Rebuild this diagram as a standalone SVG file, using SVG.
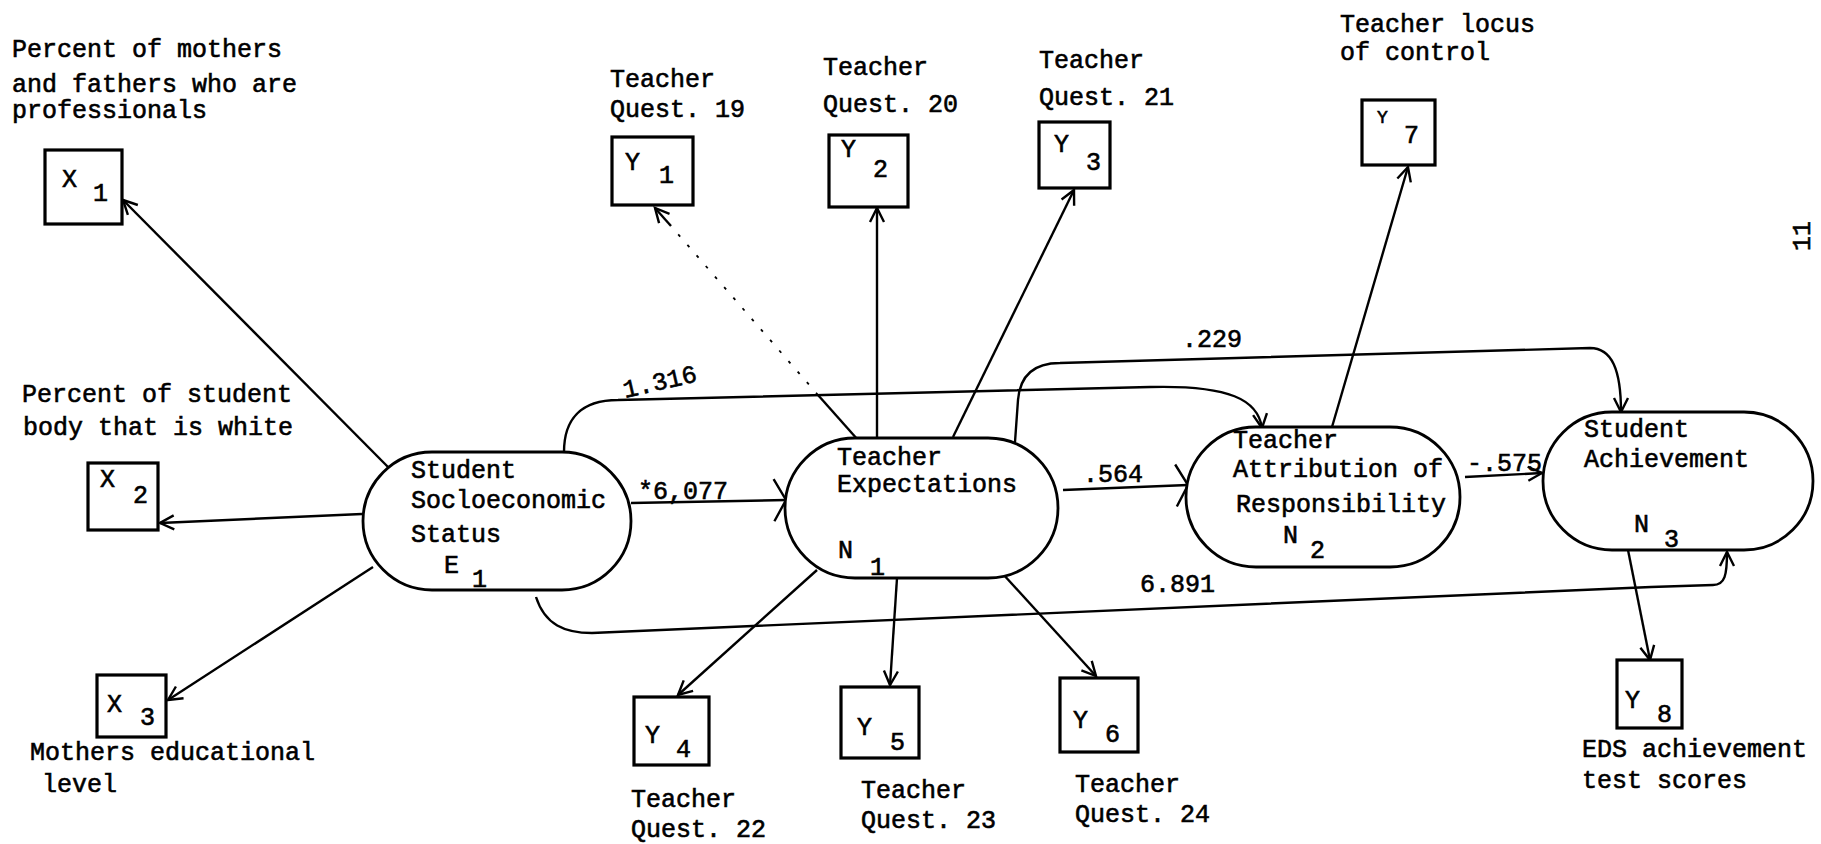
<svg xmlns="http://www.w3.org/2000/svg" width="1821" height="844" viewBox="0 0 1821 844">
  <style>
    .t { font-family: "Liberation Mono", "DejaVu Sans Mono", monospace; font-size: 25px; fill: #000; stroke: #000; stroke-width: 0.6; }
    .box { fill: #fff; stroke: #000; stroke-width: 3.2; }
    .node { fill: #fff; stroke: #000; stroke-width: 2.8; }
    .edge { fill: none; stroke: #000; stroke-width: 2.4; }
    .dash { fill: none; stroke: #000; stroke-width: 1.8; stroke-dasharray: 3 11; }
  </style>
  <defs>
    <marker id="arrow" viewBox="-16 -10 20 20" refX="0" refY="0" markerWidth="20" markerHeight="20" markerUnits="userSpaceOnUse" orient="auto">
      <path d="M-14,-7 L0,0 L-14,7" fill="none" stroke="#000" stroke-width="2.4"/>
    </marker>
    <marker id="bigArrow" viewBox="-26 -24 30 48" refX="0" refY="0" markerWidth="30" markerHeight="48" markerUnits="userSpaceOnUse" orient="auto">
      <path d="M-12,-21 L0,0 L-12,21" fill="none" stroke="#000" stroke-width="2.4"/>
    </marker>
  </defs>
  <rect width="1821" height="844" fill="#fff"/>

  <!-- connectors -->
  <g id="connectors">
    <path class="edge" d="M388,467 L123,200" marker-end="url(#arrow)"/>
    <path class="edge" d="M362,514 L160,523" marker-end="url(#arrow)"/>
    <path class="edge" d="M373,567 L168,700" marker-end="url(#arrow)"/>
    <path class="edge" d="M631,503 L786,500" marker-end="url(#bigArrow)"/>
    <path class="edge" d="M564,452 C564,420 580,400 618,400 L1150,387 C1230,385 1258,400 1262,428" marker-end="url(#arrow)"/>
    <path class="edge" d="M536,597 C545,625 565,633 592,633 L1651,587 L1713,585 C1725,585 1727,575 1727,552" marker-end="url(#arrow)"/>
    <path class="edge" d="M1063,490 L1188,485" marker-end="url(#bigArrow)"/>
    <path class="edge" d="M1465,477 L1542,473" marker-end="url(#arrow)"/>
    <path class="edge" d="M1015,442 L1018,400 C1020,375 1035,363 1060,363 L1590,348 C1612,348 1621,370 1621,412" marker-end="url(#arrow)"/>
    <path class="edge" d="M858,440 L818,395"/>
    <path class="dash" d="M818,395 L671,226"/>
    <path class="edge" d="M671,226 L655,208" marker-end="url(#arrow)"/>
    <path class="edge" d="M877,438 L877,208" marker-end="url(#arrow)"/>
    <path class="edge" d="M953,437 L1074,190" marker-end="url(#arrow)"/>
    <path class="edge" d="M817,570 L678,695" marker-end="url(#arrow)"/>
    <path class="edge" d="M897,578 L890,685" marker-end="url(#arrow)"/>
    <path class="edge" d="M1002,573 L1096,676" marker-end="url(#arrow)"/>
    <path class="edge" d="M1332,427 L1408,167" marker-end="url(#arrow)"/>
    <path class="edge" d="M1628,550 L1650,660" marker-end="url(#arrow)"/>
    <!-- path coefficients -->
    <text class="t" x="625" y="398" transform="rotate(-13 625 398)">1.316</text>
    <text class="t" x="638" y="499">*6,077</text>
    <text class="t" x="1083" y="482">.564</text>
    <text class="t" x="1467" y="471">-.575</text>
    <text class="t" x="1182" y="347">.229</text>
    <text class="t" x="1140" y="592">6.891</text>
  </g>

  <!-- latent variables -->
  <g id="E1">
    <rect class="node" x="363" y="452" width="268" height="138" rx="69"/>
    <text class="t" x="411" y="478">Student</text>
    <text class="t" x="411" y="508">Socloeconomic</text>
    <text class="t" x="411" y="542">Status</text>
    <text class="t" x="444" y="573">E</text>
    <text class="t" x="472" y="587">1</text>
  </g>
  <g id="N1">
    <rect class="node" x="785" y="438" width="273" height="140" rx="70"/>
    <text class="t" x="837" y="465">Teacher</text>
    <text class="t" x="837" y="492">Expectations</text>
    <text class="t" x="838" y="558">N</text>
    <text class="t" x="870" y="575">1</text>
  </g>
  <g id="N2">
    <rect class="node" x="1186" y="427" width="274" height="140" rx="70"/>
    <text class="t" x="1233" y="448">Teacher</text>
    <text class="t" x="1233" y="477">Attribution of</text>
    <text class="t" x="1236" y="512">Responsibility</text>
    <text class="t" x="1283" y="543">N</text>
    <text class="t" x="1310" y="558">2</text>
  </g>
  <g id="N3">
    <rect class="node" x="1543" y="412" width="270" height="138" rx="69"/>
    <text class="t" x="1584" y="437">Student</text>
    <text class="t" x="1584" y="467">Achievement</text>
    <text class="t" x="1634" y="532">N</text>
    <text class="t" x="1664" y="547">3</text>
  </g>

  <!-- observed indicators -->
  <g id="X1">
    <text class="t" x="12" y="57">Percent of mothers</text>
    <text class="t" x="12" y="92">and fathers who are</text>
    <text class="t" x="12" y="118">professionals</text>
    <rect class="box" x="45" y="150" width="77" height="74"/>
    <text class="t" x="62" y="187">X</text>
    <text class="t" x="93" y="201">1</text>
  </g>
  <g id="X2">
    <text class="t" x="22" y="402">Percent of student</text>
    <text class="t" x="23" y="435">body that is white</text>
    <rect class="box" x="88" y="463" width="70" height="67"/>
    <text class="t" x="100" y="487">X</text>
    <text class="t" x="133" y="503">2</text>
  </g>
  <g id="X3">
    <rect class="box" x="97" y="675" width="69" height="62"/>
    <text class="t" x="107" y="712">X</text>
    <text class="t" x="140" y="725">3</text>
    <text class="t" x="30" y="760">Mothers educational</text>
    <text class="t" x="42" y="792">level</text>
  </g>
  <g id="Y1">
    <text class="t" x="610" y="87">Teacher</text>
    <text class="t" x="610" y="117">Quest. 19</text>
    <rect class="box" x="612" y="137" width="81" height="68"/>
    <text class="t" x="625" y="170">Y</text>
    <text class="t" x="659" y="183">1</text>
  </g>
  <g id="Y2">
    <text class="t" x="823" y="75">Teacher</text>
    <text class="t" x="823" y="112">Quest. 20</text>
    <rect class="box" x="829" y="135" width="79" height="72"/>
    <text class="t" x="841" y="157">Y</text>
    <text class="t" x="873" y="177">2</text>
  </g>
  <g id="Y3">
    <text class="t" x="1039" y="68">Teacher</text>
    <text class="t" x="1039" y="105">Quest. 21</text>
    <rect class="box" x="1039" y="122" width="71" height="66"/>
    <text class="t" x="1054" y="152">Y</text>
    <text class="t" x="1086" y="170">3</text>
  </g>
  <g id="Y7">
    <text class="t" x="1340" y="32">Teacher locus</text>
    <text class="t" x="1340" y="60">of control</text>
    <rect class="box" x="1362" y="100" width="73" height="65"/>
    <text class="t" x="1377" y="123" style="font-size:18px">Y</text>
    <text class="t" x="1404" y="143">7</text>
  </g>
  <g id="Y4">
    <rect class="box" x="634" y="697" width="75" height="68"/>
    <text class="t" x="645" y="743">Y</text>
    <text class="t" x="676" y="757">4</text>
    <text class="t" x="631" y="807">Teacher</text>
    <text class="t" x="631" y="837">Quest. 22</text>
  </g>
  <g id="Y5">
    <rect class="box" x="841" y="687" width="78" height="71"/>
    <text class="t" x="857" y="735">Y</text>
    <text class="t" x="890" y="750">5</text>
    <text class="t" x="861" y="798">Teacher</text>
    <text class="t" x="861" y="828">Quest. 23</text>
  </g>
  <g id="Y6">
    <rect class="box" x="1060" y="678" width="78" height="74"/>
    <text class="t" x="1073" y="728">Y</text>
    <text class="t" x="1105" y="742">6</text>
    <text class="t" x="1075" y="792">Teacher</text>
    <text class="t" x="1075" y="822">Quest. 24</text>
  </g>
  <g id="Y8">
    <rect class="box" x="1617" y="660" width="65" height="68"/>
    <text class="t" x="1625" y="708">Y</text>
    <text class="t" x="1657" y="722">8</text>
    <text class="t" x="1582" y="757">EDS achievement</text>
    <text class="t" x="1582" y="788">test scores</text>
  </g>

  <!-- page number -->
  <text class="t" x="1810" y="236" transform="rotate(-90 1810 236)" text-anchor="middle">11</text>
</svg>
